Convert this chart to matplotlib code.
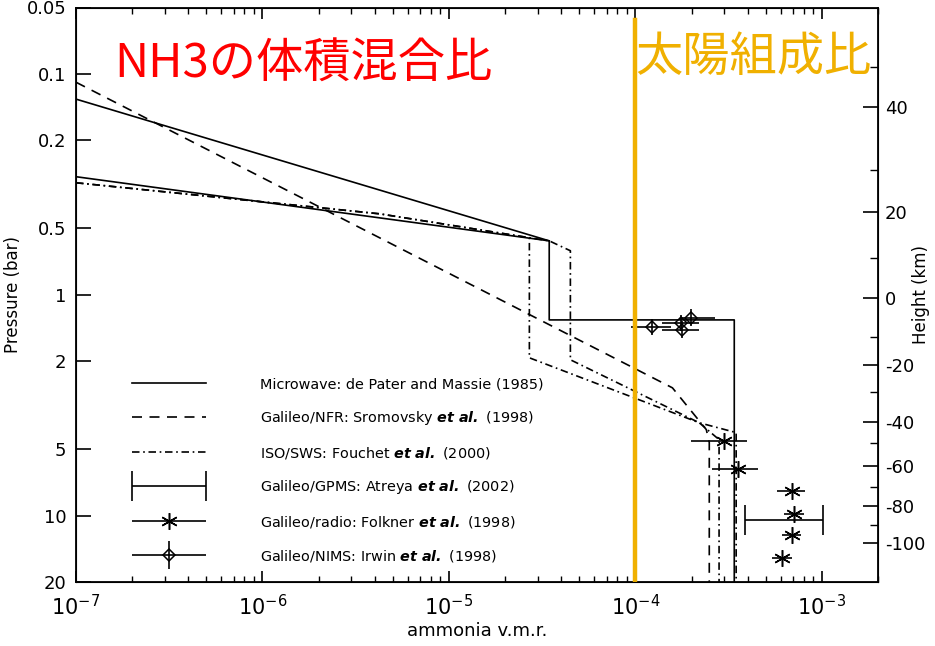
import matplotlib
matplotlib.use("Agg")
import matplotlib.pyplot as plt
import numpy as np
from matplotlib.legend_handler import HandlerErrorbar
from matplotlib.ticker import NullLocator, NullFormatter

# ammonia volume mixing ratio profiles (x) vs pressure in bar (p)
MW_UPPER_X = [1e-7, 3.45e-5]
MW_UPPER_P = [0.130, 0.570]
MW_LOWER_X = [1e-7, 3.45e-5, 3.45e-5, 3.39e-4, 3.39e-4]
MW_LOWER_P = [0.292, 0.570, 1.30, 1.30, 20]

NFR_X = [1e-7, 1.58e-4, 2.40e-4, 2.49e-4, 2.49e-4]
NFR_P = [0.109, 2.64, 4.08, 4.67, 20]

ISO_A_X = [1e-7, 4.25e-6, 2.70e-5, 2.70e-5, 2.20e-4, 2.81e-4, 2.81e-4]
ISO_A_P = [0.311, 0.430, 0.552, 1.93, 3.80, 4.53, 20]
ISO_B_X = [1e-7, 4.25e-6, 3.45e-5, 4.48e-5, 4.48e-5, 2.20e-4, 3.47e-4, 3.47e-4]
ISO_B_P = [0.311, 0.430, 0.570, 0.632, 1.97, 3.80, 4.21, 20]

GPMS_X = [6.26e-4]
GPMS_P = [10.5]
GPMS_LOW = [3.87e-4]
GPMS_HIGH = [1.01e-3]

RADIO_X = [2.99e-4, 3.56e-4, 6.92e-4, 7.10e-4, 6.92e-4, 6.12e-4]
RADIO_P = [4.62, 6.13, 7.71, 9.79, 12.3, 15.5]
RADIO_LOW = [1.99e-4, 2.58e-4, 5.75e-4, 6.27e-4, 6.11e-4, 5.41e-4]
RADIO_HIGH = [3.97e-4, 4.55e-4, 8.13e-4, 8.03e-4, 7.73e-4, 6.92e-4]

NIMS_X = [1.22e-4, 1.76e-4, 1.78e-4, 1.99e-4]
NIMS_P = [1.40, 1.34, 1.44, 1.27]
NIMS_LOW = [9.5e-5, 1.39e-4, 1.39e-4, 1.73e-4]
NIMS_HIGH = [1.56e-4, 2.2e-4, 2.2e-4, 2.66e-4]

SOLAR_X = 1e-4

P_TICKS = [0.05, 0.1, 0.2, 0.5, 1, 2, 5, 10, 20]
P_LABELS = ["0.05", "0.1", "0.2", "0.5", "1", "2", "5", "10", "20"]

HEIGHT_MAJOR = [40, 20, 0, -20, -40, -60, -80, -100]
HEIGHT_MAJOR_P = [0.141, 0.424, 1.03, 2.07, 3.76, 5.94, 9.10, 13.3]
HEIGHT_MINOR_P = [0.0929, 0.272, 0.681, 1.55, 2.77, 4.68, 7.40, 11.0]

LABELS = [
    "Microwave: de Pater and Massie (1985)",
    r"Galileo/NFR: Sromovsky $\mathbfit{et\ al.}$ (1998)",
    r"ISO/SWS: Fouchet $\mathbfit{et\ al.}$ (2000)",
    r"Galileo/GPMS: Atreya $\mathbfit{et\ al.}$ (2002)",
    r"Galileo/radio: Folkner $\mathbfit{et\ al.}$ (1998)",
    r"Galileo/NIMS: Irwin $\mathbfit{et\ al.}$ (1998)",
]


def xerr(x, low, high):
    x = np.array(x)
    return [x - np.array(low), np.array(high) - x]


def main():
    plt.rcParams["font.family"] = ["DejaVu Sans"]
    fig = plt.figure(figsize=(9.35, 6.46), dpi=100, facecolor="white")
    ax = fig.add_axes([76 / 935, 1 - 582 / 646, 802 / 935, 574.5 / 646])
    ax.set_xscale("log")
    ax.set_yscale("log")
    ax.set_xlim(1e-7, 2e-3)
    ax.set_ylim(20, 0.05)

    lw = 1.2
    dashed = (6, 4.5)
    dashdot = (4.5, 2.2, 1, 2.2)

    mw, = ax.plot(MW_LOWER_X, MW_LOWER_P, color="black", lw=lw)
    ax.plot(MW_UPPER_X, MW_UPPER_P, color="black", lw=lw)
    nfr, = ax.plot(NFR_X, NFR_P, color="black", lw=lw, dashes=dashed)
    iso, = ax.plot(ISO_A_X, ISO_A_P, color="black", lw=lw, dashes=dashdot)
    ax.plot(ISO_B_X, ISO_B_P, color="black", lw=lw, dashes=dashdot)

    gpms = ax.errorbar(GPMS_X, GPMS_P, xerr=xerr(GPMS_X, GPMS_LOW, GPMS_HIGH),
                       fmt="none", ecolor="black", elinewidth=lw,
                       capsize=11, capthick=lw)
    radio = ax.errorbar(RADIO_X, RADIO_P, xerr=xerr(RADIO_X, RADIO_LOW, RADIO_HIGH),
                        ecolor="black", elinewidth=lw,
                        marker=(6, 2, 0), ms=12, mec="black", mew=1.1,
                        linestyle="none", color="black")
    nims_p = np.array(NIMS_P)
    nims = ax.errorbar(NIMS_X, NIMS_P, xerr=xerr(NIMS_X, NIMS_LOW, NIMS_HIGH),
                       yerr=[nims_p - nims_p / 1.09, nims_p * 1.09 - nims_p],
                       marker="D", ms=6, mfc="none", mec="black", mew=1.1,
                       linestyle="none", ecolor="black", elinewidth=lw,
                       color="black")

    ax.axvline(SOLAR_X, ymin=0, ymax=0.978, color="#F0B000", lw=3.2, zorder=5)

    # ticks
    ax.set_yticks(P_TICKS, labels=P_LABELS)
    ax.yaxis.set_minor_locator(NullLocator())
    ax.tick_params(axis="y", which="major", direction="in", length=11,
                   width=1.2, labelsize=13, pad=7, right=False)
    ax.tick_params(axis="x", which="major", direction="in", length=8,
                   width=1.2, labelsize=15, pad=9, top=True)
    ax.tick_params(axis="x", which="minor", direction="in", length=4,
                   width=1.0, top=True)
    ax.set_ylabel("Pressure (bar)", fontsize=12, labelpad=3)
    ax.set_xlabel("ammonia v.m.r.", fontsize=13, labelpad=2)
    for spine in ax.spines.values():
        spine.set_linewidth(1.3)

    ax2 = ax.twinx()
    ax2.set_yscale("log")
    ax2.set_ylim(20, 0.05)
    ax2.set_yticks(HEIGHT_MAJOR_P, labels=[str(h) for h in HEIGHT_MAJOR])
    ax2.set_yticks(HEIGHT_MINOR_P, minor=True)
    ax2.yaxis.set_minor_formatter(NullFormatter())
    ax2.tick_params(axis="y", which="major", direction="in", length=11,
                    width=1.2, labelsize=13, pad=5)
    ax2.tick_params(axis="y", which="minor", direction="in", length=6,
                    width=1.0)
    ax2.set_ylabel("Height (km)", fontsize=12)
    ax2.yaxis.set_label_coords(1.043, 0.5)

    cjk = ["Noto Sans CJK JP", "DejaVu Sans"]
    ax.text(0.048, 0.900, "NH3の体積混合比", transform=ax.transAxes,
            fontsize=34, color="#FF0000", family=cjk, va="center", ha="left")
    ax.text(0.697, 0.912, "太陽組成比", transform=ax.transAxes,
            fontsize=34, color="#F0B000", family=cjk, va="center", ha="left")

    leg = ax.legend([mw, nfr, iso, gpms, radio, nims], LABELS,
                    loc="upper left", bbox_to_anchor=(0.07, 0.356),
                    frameon=False, fontsize=10.4, handlelength=5.1,
                    handletextpad=3.75, labelspacing=1.22, borderpad=0,
                    borderaxespad=0,
                    handler_map={type(gpms): HandlerErrorbar(xerr_size=2.55,
                                                             yerr_size=1.0)})
    leg.set_zorder(6)

    fig.savefig("out.png", dpi=100)


if __name__ == "__main__":
    main()
